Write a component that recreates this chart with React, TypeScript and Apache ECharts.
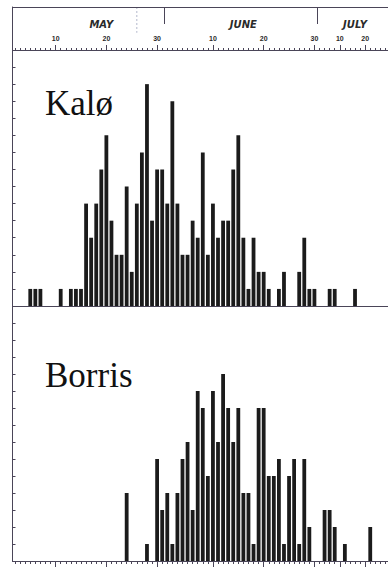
import React, { useEffect, useRef } from 'react';
import * as echarts from 'echarts';

// Days shown along the axis: May 2 – July 14
const monthSpans: [string, number, number][] = [
  ['May', 2, 31],
  ['Jun', 1, 30],
  ['Jul', 1, 14],
];
const categories: string[] = monthSpans.flatMap(([m, a, b]) =>
  Array.from({ length: b - a + 1 }, (_, i) => `${m} ${a + i}`)
);

// Kalø daily counts
const kaloMay = [0, 0, 0, 1, 1, 1, 0, 0, 0, 1, 0, 1, 1, 1, 6, 4, 6, 8, 10, 5, 3, 3, 7, 2, 6, 9, 13, 5, 8, 8];
const kaloJun = [6, 12, 6, 3, 3, 5, 4, 9, 3, 6, 4, 5, 5, 8, 10, 4, 1, 4, 2, 2, 1, 0, 1, 2, 0, 0, 2, 4, 1, 1];
const kaloJul = [0, 0, 1, 1, 0, 0, 0, 1, 0, 0, 0, 0, 0, 0];
const kaloCounts = [...kaloMay, ...kaloJun, ...kaloJul];

// Borris daily counts
const borrisMay = [0, 0, 0, 0, 0, 0, 0, 0, 0, 0, 0, 0, 0, 0, 0, 0, 0, 0, 0, 0, 0, 0, 4, 0, 0, 0, 1, 0, 6, 3];
const borrisJun = [4, 1, 4, 6, 7, 3, 10, 9, 5, 10, 7, 11, 9, 7, 9, 4, 4, 1, 9, 9, 5, 5, 6, 1, 5, 6, 1, 6, 2, 0];
const borrisJul = [0, 3, 3, 2, 0, 1, 0, 0, 0, 0, 2, 0, 0, 0];
const borrisCounts = [...borrisMay, ...borrisJun, ...borrisJul];

// Tick labels (as printed on the original scale)
const dayTickLabels: [string, string][] = [
  ['May 10', '10'],
  ['May 20', '20'],
  ['May 30', '30'],
  ['Jun 10', '10'],
  ['Jun 20', '20'],
  ['Jun 30', '30'],
  ['Jul 5', '10'],
  ['Jul 10', '20'],
];
const monthLabels: [string, string][] = [
  ['May 19', 'MAY'],
  ['Jun 16', 'JUNE'],
  ['Jul 8', 'JULY'],
];
const monthBoundaries = ['Jun 1', 'Jul 1'];
const panelTitles = ['Kalø', 'Borris'];

const dayLabelMap = new Map(dayTickLabels);
const monthLabelMap = new Map(monthLabels);

const axisColor = '#4a4558';
const barColor = '#1b1b1b';

export default function App() {
  const ref = useRef<HTMLDivElement>(null);

  useEffect(() => {
    if (!ref.current) return;
    const chart = echarts.init(ref.current, undefined, { renderer: 'svg' });

    const gridLeft = 12.5;
    const gridWidth = 375.8;

    const hiddenLabel = { show: false };
    const noSplit = { show: false };
    const line = (show = true) => ({ show, onZero: false, lineStyle: { color: axisColor, width: 1 } });

    const option: any = {
      animation: false,
      backgroundColor: '#ffffff',
      title: [
        {
          text: panelTitles[0],
          left: 45,
          top: 86,
          padding: 0,
          textStyle: { fontFamily: 'Liberation Serif', fontSize: 35, fontWeight: 'normal', color: '#111' },
        },
        {
          text: panelTitles[1],
          left: 45,
          top: 358,
          padding: 0,
          textStyle: { fontFamily: 'Liberation Serif', fontSize: 35, fontWeight: 'normal', color: '#111' },
        },
      ],
      grid: [
        { left: gridLeft, width: gridWidth, top: 7, height: 43 },
        { left: gridLeft, width: gridWidth, top: 50, height: 256 },
        { left: gridLeft, width: gridWidth, top: 306, height: 255 },
      ],
      xAxis: [
        // header: frame line, month names, month separators
        {
          gridIndex: 0,
          type: 'category',
          data: categories,
          position: 'top',
          axisLine: line(true),
          axisTick: {
            show: true,
            inside: true,
            length: 17,
            alignWithLabel: false,
            interval: (_i: number, v: string) => monthBoundaries.includes(v),
            lineStyle: { color: axisColor, width: 1 },
          },
          axisLabel: {
            show: true,
            inside: true,
            margin: 12,
            interval: (_i: number, v: string) => monthLabelMap.has(v),
            formatter: (v: string) => monthLabelMap.get(v) ?? '',
            fontSize: 10,
            fontStyle: 'italic',
            fontWeight: 'bold',
            fontFamily: 'DejaVu Sans',
            color: '#2a2a2a',
          },
          splitLine: noSplit,
        },
        // Kalø top axis: day ticks + day labels
        {
          gridIndex: 1,
          type: 'category',
          data: categories,
          position: 'top',
          axisLine: line(true),
          axisTick: {
            show: true,
            length: 2,
            alignWithLabel: true,
            interval: 0,
            lineStyle: { color: axisColor, width: 1 },
          },
          axisLabel: {
            show: true,
            margin: 8,
            interval: (_i: number, v: string) => dayLabelMap.has(v),
            formatter: (v: string) => dayLabelMap.get(v) ?? '',
            fontSize: 7,
            fontWeight: 'bold',
            fontFamily: 'Liberation Sans',
            color: '#2a2a2a',
          },
          splitLine: noSplit,
        },
        // Kalø top axis: major ticks
        {
          gridIndex: 1,
          type: 'category',
          data: categories,
          position: 'top',
          axisLine: line(false),
          axisTick: {
            show: true,
            length: 5,
            alignWithLabel: true,
            interval: (_i: number, v: string) => dayLabelMap.has(v),
            lineStyle: { color: axisColor, width: 1 },
          },
          axisLabel: hiddenLabel,
          splitLine: noSplit,
        },
        // Kalø baseline (bars)
        {
          gridIndex: 1,
          type: 'category',
          data: categories,
          position: 'bottom',
          axisLine: line(true),
          axisTick: { show: false },
          axisLabel: hiddenLabel,
          splitLine: noSplit,
        },
        // Borris baseline (bars) with day ticks
        {
          gridIndex: 2,
          type: 'category',
          data: categories,
          position: 'bottom',
          axisLine: line(true),
          axisTick: {
            show: true,
            length: 3,
            alignWithLabel: true,
            interval: 0,
            lineStyle: { color: axisColor, width: 1 },
          },
          axisLabel: hiddenLabel,
          splitLine: noSplit,
        },
        // Borris major ticks
        {
          gridIndex: 2,
          type: 'category',
          data: categories,
          position: 'bottom',
          axisLine: line(false),
          axisTick: {
            show: true,
            length: 6,
            alignWithLabel: true,
            interval: (_i: number, v: string) => dayLabelMap.has(v),
            lineStyle: { color: axisColor, width: 1 },
          },
          axisLabel: hiddenLabel,
          splitLine: noSplit,
        },
      ],
      yAxis: [
        {
          gridIndex: 0,
          type: 'value',
          min: 0,
          max: 1,
          axisLine: line(true),
          axisTick: { show: false },
          axisLabel: hiddenLabel,
          splitLine: noSplit,
        },
        {
          gridIndex: 1,
          type: 'value',
          min: 0,
          max: 15,
          interval: 1,
          axisLine: line(true),
          axisTick: { show: true, inside: true, length: 3, lineStyle: { color: axisColor, width: 1 } },
          axisLabel: hiddenLabel,
          splitLine: noSplit,
        },
        {
          gridIndex: 2,
          type: 'value',
          min: 0,
          max: 15,
          interval: 1,
          axisLine: line(true),
          axisTick: { show: true, inside: true, length: 3, lineStyle: { color: axisColor, width: 1 } },
          axisLabel: hiddenLabel,
          splitLine: noSplit,
        },
      ],
      series: [
        {
          name: panelTitles[0],
          type: 'bar',
          xAxisIndex: 3,
          yAxisIndex: 1,
          data: kaloCounts,
          barWidth: 3.8,
          itemStyle: { color: barColor },
        },
        {
          name: panelTitles[1],
          type: 'bar',
          xAxisIndex: 4,
          yAxisIndex: 2,
          data: borrisCounts,
          barWidth: 3.8,
          itemStyle: { color: barColor },
        },
      ],
    };

    chart.setOption(option);

    // faint dotted scan mark in the header, aligned to a day on the axis
    const xMark = chart.convertToPixel({ xAxisIndex: 0 }, 'May 26') as number;
    const yTop = chart.convertToPixel({ yAxisIndex: 0 }, 1) as number;
    const yBot = chart.convertToPixel({ yAxisIndex: 0 }, 0.4) as number;
    if (isFinite(xMark)) {
      chart.setOption({
        graphic: [
          {
            type: 'line',
            shape: { x1: xMark, y1: yTop, x2: xMark, y2: yBot },
            style: { stroke: '#b4b8cc', lineWidth: 1, lineDash: [2, 2] },
            silent: true,
          },
        ],
      });
    }

    return () => chart.dispose();
  }, []);

  return (
    <div
      ref={ref}
      style={{ position: 'fixed', left: 0, top: 0, width: 388, height: 567, background: '#fff' }}
    />
  );
}
